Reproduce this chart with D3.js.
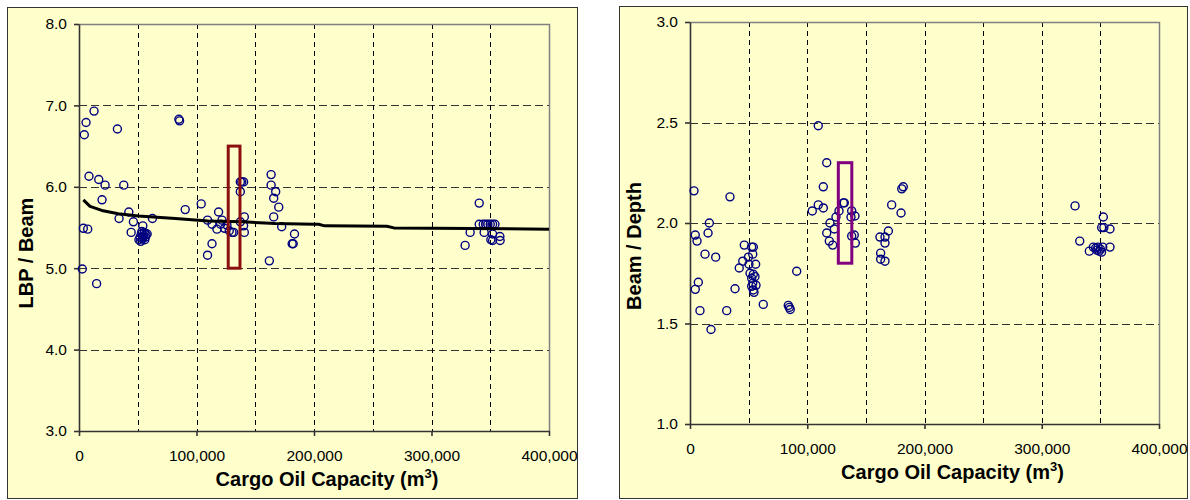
<!DOCTYPE html>
<html>
<head>
<meta charset="utf-8">
<script src="https://cdn.jsdelivr.net/npm/d3@7"></script>
<style>
  body { margin: 0; background: #fff; }
  svg { display: block; font-family: "Liberation Sans", Arial, sans-serif; }
</style>
</head>
<body>
<svg id="chart" width="1190" height="500"></svg>
<script>
// cargo oil capacity (m3) vs LBP / Beam
var lbpBeamPoints = [
  [4500,6.64],[6000,6.79],[12800,6.93],[32700,6.71],[85000,6.83],[85600,6.81],
  [8500,6.13],[16800,6.09],[22200,6.02],[38100,6.02],[19600,5.84],
  [42400,5.69],[34100,5.61],[46300,5.57],[54300,5.52],[62500,5.61],[44400,5.44],
  [3700,5.49],[7400,5.48],
  [51000,5.35],[52000,5.38],[53000,5.42],[53500,5.45],[54000,5.36],[55000,5.40],
  [55500,5.44],[56000,5.35],[57000,5.41],[58000,5.42],[52500,5.33],[54500,5.38],[56500,5.38],
  [2800,4.99],[15000,4.81],
  [90400,5.72],[104000,5.79],[118800,5.69],[109400,5.59],[113200,5.54],[117400,5.48],
  [121700,5.59],[120500,5.54],[123900,5.49],[125900,5.53],[127900,5.46],[130200,5.44],
  [131600,5.44],[113200,5.30],[109400,5.16],
  [137300,6.06],[140100,6.06],[138500,6.06],[137300,5.94],[140700,5.63],[137300,5.57],
  [140100,5.52],[140700,5.44],
  [163500,6.15],[163500,6.02],[167400,5.94],[165700,5.86],[170000,5.75],[165700,5.63],
  [172500,5.51],[183400,5.42],[181400,5.30],[182300,5.30],[162000,5.09],
  [340600,5.80],[340600,5.54],[344000,5.54],[346000,5.54],[348000,5.54],[350000,5.54],
  [352000,5.54],[354000,5.54],[332900,5.44],[344800,5.44],[352000,5.42],[350500,5.35],
  [352000,5.34],[358200,5.39],[358400,5.34],[328600,5.28]
];

var lbpBeamTrend = [
  [3700,5.84],[9400,5.76],[19400,5.71],[33500,5.67],[50600,5.64],[82000,5.61],
  [110000,5.58],[139000,5.57],[167000,5.55],[200000,5.54],[204000,5.54],[209000,5.52],
  [262000,5.515],[268000,5.495],[400000,5.48]
];

// [x0, x1, y0, y1]
var lbpBeamBox = [127000, 137000, 5.0, 6.5];

// cargo oil capacity (m3) vs Beam / Depth
var beamDepthPoints = [
  [109400,2.484],[116600,2.30],[113700,2.18],[109400,2.09],[113700,2.075],[104300,2.06],
  [130800,2.10],[131600,2.10],[127100,2.06],[124500,2.03],[119400,2.00],[123100,1.97],
  [116600,1.95],[118800,1.91],[121700,1.89],[137900,2.06],[137300,2.03],[140700,2.035],
  [137900,1.935],[140100,1.94],[141000,1.90],
  [181900,2.18],[180600,2.17],[172000,2.09],[180000,2.05],[169200,1.96],[166300,1.93],
  [162000,1.93],[166300,1.90],[162600,1.85],[162600,1.82],[166300,1.81],
  [3400,2.16],[34100,2.13],[16500,2.00],[4500,1.94],[6000,1.91],[15400,1.95],
  [12800,1.845],[21900,1.83],[46300,1.89],[52600,1.88],[54000,1.88],[53500,1.845],
  [49800,1.83],[45000,1.81],[50300,1.795],[56000,1.795],[42000,1.776],[51200,1.75],
  [54000,1.745],[52600,1.725],[55400,1.733],[53500,1.70],[56300,1.69],[52600,1.685],
  [54000,1.667],[54600,1.655],[91000,1.76],[7100,1.705],[4500,1.67],[38400,1.673],
  [8500,1.564],[31300,1.564],[62500,1.595],[83800,1.59],[84700,1.58],[85500,1.57],
  [17900,1.47],
  [328400,2.085],[352500,2.03],[351100,1.977],[353000,1.977],[358200,1.97],[332400,1.91],
  [340600,1.86],[344000,1.88],[346000,1.875],[348000,1.88],[350000,1.87],[352000,1.88],
  [349000,1.86],[347000,1.865],[351000,1.855],[358200,1.88]
];

var beamDepthBox = [126500, 138000, 1.8, 2.3];

var xTicks = [0, 100000, 200000, 300000, 400000];
var xGrid = [50000, 100000, 150000, 200000, 250000, 300000, 350000];
var lbpTicks = [3.0, 4.0, 5.0, 6.0, 7.0, 8.0];
var lbpGrid = [4.0, 5.0, 6.0, 7.0];
var bdTicks = [1.0, 1.5, 2.0, 2.5, 3.0];
var bdGrid = [1.5, 2.0, 2.5];

var svg = d3.select("#chart");

function drawChart(c) {
  // outer frame
  svg.append("rect")
      .attr("x", c.frame[0] + 0.5)
      .attr("y", c.frame[1] + 0.5)
      .attr("width", c.frame[2])
      .attr("height", c.frame[3])
      .attr("fill", "#ffffcc")
      .attr("stroke", "#333")
      .attr("stroke-width", 1);

  var g = svg.append("g")
      .attr("transform", "translate(" + c.left + "," + c.top + ")");

  var x = d3.scaleLinear()
      .domain([0, 400000])
      .range([0, c.width]);

  var y = d3.scaleLinear()
      .domain(c.yDomain)
      .range([c.height, 0]);

  // gridlines
  g.selectAll(".hgrid")
      .data(c.yGrid)
      .enter().append("line")
      .attr("x1", 0).attr("x2", c.width)
      .attr("y1", function(d) { return Math.round(y(d)) + 0.5; })
      .attr("y2", function(d) { return Math.round(y(d)) + 0.5; })
      .attr("stroke", "#333")
      .attr("stroke-width", 1.2)
      .attr("stroke-dasharray", "8,4");

  g.selectAll(".vgrid")
      .data(xGrid)
      .enter().append("line")
      .attr("y1", 0).attr("y2", c.height)
      .attr("x1", function(d) { return Math.round(x(d)) + 0.5; })
      .attr("x2", function(d) { return Math.round(x(d)) + 0.5; })
      .attr("stroke", "#000")
      .attr("stroke-width", 1)
      .attr("stroke-dasharray", "5,4");

  // top and right border of plot area
  g.append("path")
      .attr("d", "M0,0.5H" + (c.width + 0.5) + "V" + c.height)
      .attr("fill", "none")
      .attr("stroke", "#808080")
      .attr("stroke-width", 1.5);

  // axes
  var xaxis = d3.axisBottom(x)
      .tickValues(xTicks)
      .tickSize(5)
      .tickSizeOuter(0)
      .tickPadding(14)
      .tickFormat(d3.format(","));

  var yaxis = d3.axisLeft(y)
      .tickValues(c.yTicks)
      .tickSize(5)
      .tickSizeOuter(0)
      .tickPadding(7)
      .tickFormat(d3.format(".1f"));

  g.append("g")
      .attr("class", "x axis")
      .attr("transform", "translate(0," + c.height + ")")
      .call(xaxis);

  g.append("g")
      .attr("class", "y axis")
      .call(yaxis);

  g.selectAll(".axis path, .axis line")
      .attr("stroke", "#333")
      .attr("stroke-width", 1.6);
  g.selectAll(".axis text")
      .attr("font-size", "15.5px")
      .attr("fill", "#000");
  g.selectAll(".axis").attr("font-family", null);

  // points
  g.selectAll(".pt")
      .data(c.points)
      .enter().append("circle")
      .attr("cx", function(d) { return x(d[0]); })
      .attr("cy", function(d) { return y(d[1]); })
      .attr("r", 4)
      .attr("fill", "none")
      .attr("stroke", "#000080")
      .attr("stroke-width", 1.4);

  if (c.trend) {
    var line = d3.line()
        .x(function(d) { return x(d[0]); })
        .y(function(d) { return y(d[1]); });
    g.append("path")
        .datum(c.trend)
        .attr("fill", "none")
        .attr("stroke", "#000")
        .attr("stroke-width", 3)
        .attr("stroke-linejoin", "round")
        .attr("d", line);
  }

  // highlight box
  g.append("rect")
      .attr("x", x(c.box[0]))
      .attr("y", y(c.box[3]))
      .attr("width", x(c.box[1]) - x(c.box[0]))
      .attr("height", y(c.box[2]) - y(c.box[3]))
      .attr("fill", "none")
      .attr("stroke", c.boxColor)
      .attr("stroke-width", 3);

  // axis titles
  var xt = g.append("text")
      .attr("x", c.width / 2 + c.xTitleShift)
      .attr("y", c.height + 55)
      .attr("text-anchor", "middle")
      .attr("font-size", "20px")
      .attr("font-weight", "bold")
      .text("Cargo Oil Capacity (m");
  xt.append("tspan").attr("dy", -8).attr("font-size", "13px").text("3");
  xt.append("tspan").attr("dy", 8).text(")");

  svg.append("text")
      .attr("transform", "translate(" + c.yTitlePos[0] + "," + c.yTitlePos[1] + ") rotate(-90)")
      .attr("text-anchor", "middle")
      .attr("font-size", "20px")
      .attr("font-weight", "bold")
      .text(c.yTitle);
}

drawChart({
  frame: [7, 7, 570, 491],
  left: 79, top: 24, width: 470, height: 407,
  yDomain: [3, 8], yTicks: lbpTicks, yGrid: lbpGrid,
  points: lbpBeamPoints, trend: lbpBeamTrend,
  box: lbpBeamBox, boxColor: "#8b0f0f",
  xTitleShift: 13,
  yTitle: "LBP / Beam", yTitlePos: [33, 253]
});

drawChart({
  frame: [619, 6, 568, 492],
  left: 690, top: 22, width: 469, height: 402,
  yDomain: [1, 3], yTicks: bdTicks, yGrid: bdGrid,
  points: beamDepthPoints, trend: null,
  box: beamDepthBox, boxColor: "#800080",
  xTitleShift: 28,
  yTitle: "Beam / Depth", yTitlePos: [641, 246]
});
</script>
</body>
</html>
